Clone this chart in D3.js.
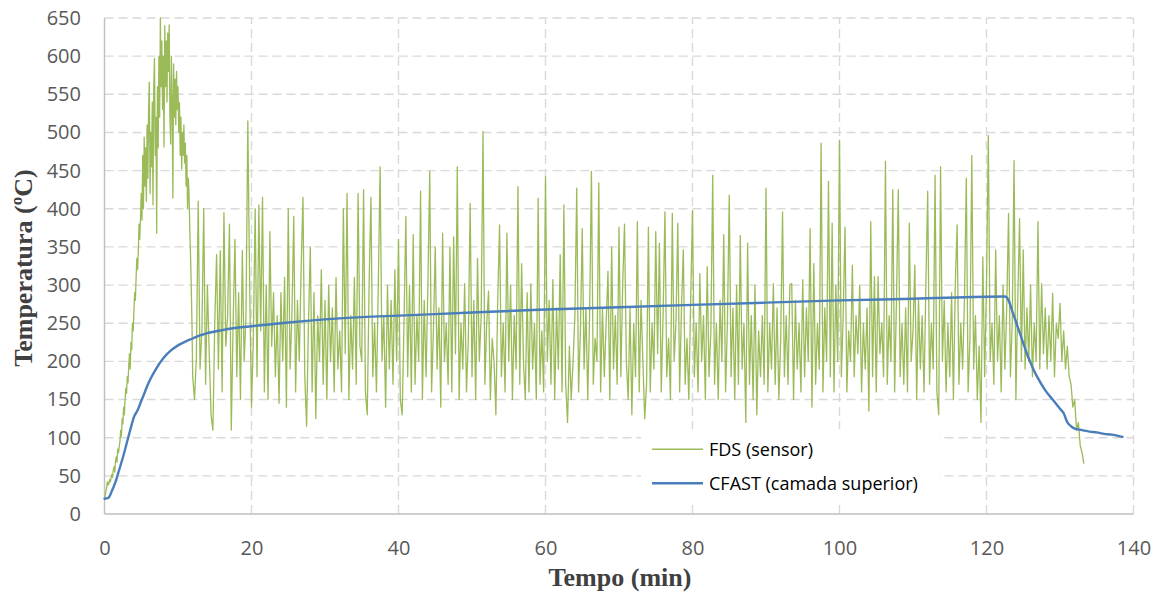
<!DOCTYPE html>
<html>
<head>
<meta charset="utf-8">
<script src="https://cdn.jsdelivr.net/npm/d3@7"></script>
<style>
html,body{margin:0;padding:0;background:#fff;}
svg{display:block;}
</style>
</head>
<body>
<svg id="chart" width="1164" height="603"></svg>
<script>
// ---------- DATA ----------
const xTicks = [0, 20, 40, 60, 80, 100, 120, 140];
const yTicks = [0, 50, 100, 150, 200, 250, 300, 350, 400, 450, 500, 550, 600, 650];
const seriesNames = ["FDS (sensor)", "CFAST (camada superior)"];
const xTitle = "Tempo (min)";
const yTitle = "Temperatura (ºC)";

// FDS sensor, first part: one reading every 0.1 min from t = 0 to 11.9
const fdsEarlyStep = 0.1;
const fdsEarly = [
 20,24,30,36,42,38,40,45,42,48,
 52,48,58,62,55,70,75,68,85,80,
 88,95,110,102,125,118,140,130,150,165,
 158,180,172,195,210,190,225,215,250,240,
 265,290,280,310,335,320,345,380,360,390,
 420,385,470,400,494,430,480,410,510,440,
 530,566,420,500,455,540,405,560,597,470,
 520,368,560,480,600,520,650,560,620,530,
 600,481,640,560,620,540,630,580,641,520,
 485,600,540,414,590,520,570,510,580,530,
 560,500,539,470,520,452,500,470,510,460,
 486,430,470,400,440,420,376,340,300,250
];
// FDS sensor, second part: one reading every 0.25 min from t = 12
const fdsMainStart = 12;
const fdsMainStep = 0.25;
const fdsMain = [
 180,150,205,410, 190,240,400,170, 300,210,130,110,
 250,340,190,345, 160,395,220,260, 380,110,250,360, 180,290,150,345, 200,260,515,300,
 140,230,400,180, 405,240,415,160, 300,150,370,220, 290,180,260,145, 290,200,310,140,
 400,190,260,390, 160,280,200,320, 415,180,115,250, 350,160,290,125, 260,200,320,170,
 280,150,300,200, 270,160,310,190, 240,160,400,210, 420,150,260,190, 310,170,420,220,
 200,425,160,130, 300,415,180,250, 160,300,455,200, 260,140,300,190, 280,170,320,200,
 360,150,130,250, 390,180,300,160, 366,170,260,200, 423,150,280,180, 300,449,160,240,
 350,190,270,140, 368,200,250,170, 350,160,363,210, 455,150,250,190, 302,160,230,407,
 180,280,150,335, 200,260,501,170, 250,292,150,230, 200,130,280,379, 180,250,160,368,
 200,300,150,260, 190,429,170,328, 200,150,290,160, 302,190,250,150, 414,170,240,160,
 442,200,280,170, 307,150,270,190, 340,160,405,170, 120,220,150,200, 260,427,160,240,
 374,190,270,150, 260,449,170,230, 200,434,160,270, 180,250,318,150, 350,190,260,170,
 376,180,300,380, 200,150,270,130, 250,180,383,160, 280,200,125,170, 376,160,250,190,
 370,210,355,160, 260,396,180,230, 150,394,200,250, 381,160,270,346, 170,230,150,280,
 398,180,250,160, 315,200,260,150, 324,180,240,444, 170,250,150,280, 200,366,160,250,
 418,180,270,150, 300,170,365,190, 250,120,355,170, 260,150,300,130, 240,180,260,170,
 427,160,250,190, 302,170,270,150, 230,396,180,260, 170,300,302,150, 280,190,250,160,
 307,180,270,200, 374,140,328,170, 250,190,486,160, 270,200,436,180, 381,160,300,200,
 490,180,260,376, 160,240,200,326, 180,260,210,300, 160,250,190,270, 135,383,180,311,
 160,311,210,250, 180,462,170,260, 200,425,160,280, 425,180,250,170, 270,160,381,200,
 240,326,150,280, 190,260,160,300, 423,170,250,190, 444,160,130,455, 200,280,160,250,
 180,290,150,300, 379,170,250,190, 280,440,160,230, 470,190,260,150, 220,120,337,180,
 300,496,200,250, 170,346,200,260, 160,300,190,270, 394,180,250,463, 150,280,387,200,
 346,190,270,200, 300,180,250,200, 383,190,302,210, 270,190,260,200, 289,180,250,230,
 276,200,240,190, 220,180,170,140, 150,110,120,90, 80,66
];

// CFAST upper layer
const cfastTime = [0,0.5,1,1.5,2,2.5,3,3.5,4,4.5,5,5.5,6,7,8,9,10,11,12,13,14,16,18,20,25,30,35,40,50,60,70,80,90,100,110,122.5,123,123.5,124,124.5,125,125.5,126,126.5,127,128,129,130,130.5,131,131.5,132,133,134,135,136,137,138.5];
const cfastValues = [20,21,30,42,58,74,92,110,127,136,148,160,172,190,204,214,221,226,230,234,237,241,244,246,251,255,258,260,264,268,271,274,277,280,282,285,280,266,252,238,224,210,198,187,178,162,150,138,132,120,115,112,110,108,107,105,104,101];

// ---------- CHART ----------
const svg = d3.select("#chart");
const x = d3.scaleLinear().domain([0, 140]).range([104.5, 1133.5]);
const y = d3.scaleLinear().domain([0, 650]).range([514, 18]);

const gridColor = "#D9D9D9";
const grid = svg.append("g");
grid.selectAll("line.h").data(yTicks.filter(d => d > 0)).enter().append("line")
  .attr("x1", x(0)).attr("x2", x(140))
  .attr("y1", d => y(d)).attr("y2", d => y(d))
  .attr("stroke", gridColor).attr("stroke-width", 1.4).attr("stroke-dasharray", "9,5");
grid.selectAll("line.v").data(xTicks.filter(d => d > 0)).enter().append("line")
  .attr("x1", d => x(d)).attr("x2", d => x(d))
  .attr("y1", y(0)).attr("y2", y(650))
  .attr("stroke", gridColor).attr("stroke-width", 1.4).attr("stroke-dasharray", "9,5");

svg.append("line").attr("x1", x(0)).attr("x2", x(0)).attr("y1", y(0)).attr("y2", y(650))
  .attr("stroke", "#BFBFBF").attr("stroke-width", 1.4);
svg.append("line").attr("x1", x(0)).attr("x2", x(140)).attr("y1", y(0)).attr("y2", y(0))
  .attr("stroke", "#BFBFBF").attr("stroke-width", 1.4);

const yAxis = svg.append("g").attr("transform", `translate(${x(0)},0)`)
  .call(d3.axisLeft(y).tickValues(yTicks).tickSize(0).tickPadding(23.5).tickFormat(d3.format("d")));
const xAxis = svg.append("g").attr("transform", `translate(0,${y(0)})`)
  .call(d3.axisBottom(x).tickValues(xTicks).tickSize(0).tickPadding(26.5).tickFormat(d3.format("d")));
[yAxis, xAxis].forEach(g => {
  g.select(".domain").remove();
  g.selectAll("text").attr("fill", "#595959")
    .style("font-family", "'Open Sans', sans-serif").style("font-size", "20px");
});

// FDS line
const fdsData = fdsEarly.map((v, i) => [i * fdsEarlyStep, v])
  .concat(fdsMain.map((v, i) => [fdsMainStart + i * fdsMainStep, v]));
svg.append("path").datum(fdsData)
  .attr("fill", "none").attr("stroke", "#9BBB59").attr("stroke-width", 1.3)
  .attr("stroke-linejoin", "round")
  .attr("d", d3.line().x(d => x(d[0])).y(d => y(d[1])));

// CFAST line
const cfastData = cfastTime.map((t, i) => [t, cfastValues[i]]);
svg.append("path").datum(cfastData)
  .attr("fill", "none").attr("stroke", "#4A7EBB").attr("stroke-width", 2.4)
  .attr("stroke-linejoin", "round").attr("stroke-linecap", "round")
  .attr("d", d3.line().curve(d3.curveMonotoneX).x(d => x(d[0])).y(d => y(d[1])));

// legend
const legend = svg.append("g");
legend.append("rect").attr("x", 641).attr("y", 429).attr("width", 298).attr("height", 73).attr("fill", "#fff");
const legItems = [
  {name: seriesNames[0], color: "#9BBB59", w: 1.5, ly: 449.3, ty: 456},
  {name: seriesNames[1], color: "#4A7EBB", w: 2.6, ly: 483.3, ty: 490}
];
legItems.forEach(it => {
  legend.append("line").attr("x1", 652).attr("x2", 703).attr("y1", it.ly).attr("y2", it.ly)
    .attr("stroke", it.color).attr("stroke-width", it.w);
  legend.append("text").attr("x", 709).attr("y", it.ty).text(it.name)
    .attr("fill", "#000").style("font-family", "'Open Sans', sans-serif").style("font-size", "18px");
});

// axis titles
svg.append("text").attr("x", 620).attr("y", 586).attr("text-anchor", "middle").text(xTitle)
  .attr("fill", "#404040").style("font-family", "'Liberation Serif', 'Times New Roman', serif")
  .style("font-weight", "bold").style("font-size", "26px");
svg.append("text").attr("transform", "translate(32,268) rotate(-90)").attr("text-anchor", "middle").text(yTitle)
  .attr("fill", "#404040").style("font-family", "'Liberation Serif', 'Times New Roman', serif")
  .style("font-weight", "bold").style("font-size", "26px");
</script>
</body>
</html>
